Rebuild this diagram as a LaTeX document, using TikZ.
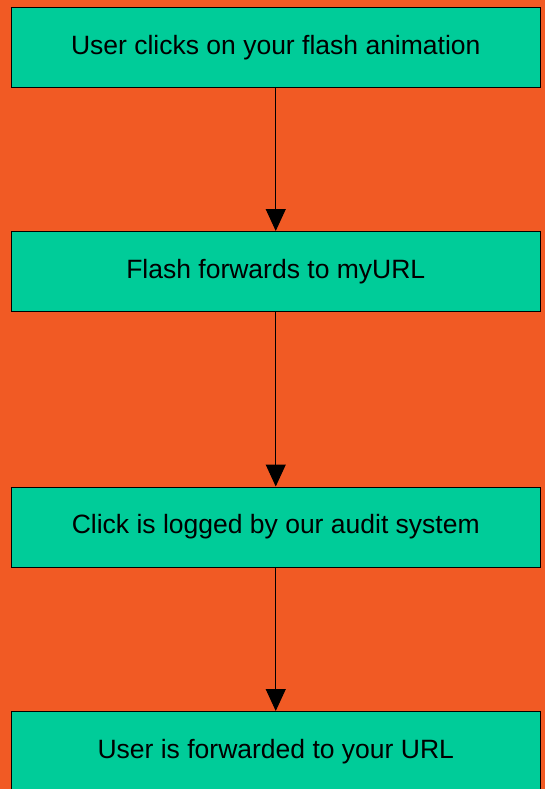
\documentclass[tikz,border=0pt]{standalone}
\usepackage{fontspec}
\setmainfont{Liberation Sans}
\usetikzlibrary{arrows.meta}
\definecolor{bgorange}{RGB}{241,90,36}
\definecolor{boxgreen}{RGB}{0,204,153}
\tikzset{
  stepbox/.style={draw=black, line width=1pt, fill=boxgreen, minimum width=529pt, minimum height=80pt, inner sep=0pt, font=\fontsize{26.5}{30}\selectfont, text=black},
  flow/.style={draw=black, line width=1pt, -{Triangle[width=20pt,length=22pt]}}
}
\begin{document}
\begin{tikzpicture}[x=1pt,y=-1pt]
\fill[bgorange] (0,0) rectangle (545,789);
\useasboundingbox (0,0) rectangle (545,789);
\node[stepbox] (a) at (275.75,47.5) {User clicks on your flash animation};
\node[stepbox] (b) at (275.75,271.5) {Flash forwards to myURL};
\node[stepbox] (c) at (275.75,527) {Click is logged by our audit system};
\node[stepbox] (d) at (275.75,751.5) {User is forwarded to your URL};
\draw[flow] (a) -- (b);
\draw[flow] (b) -- (c);
\draw[flow] (c) -- (d);
\end{tikzpicture}
\end{document}
